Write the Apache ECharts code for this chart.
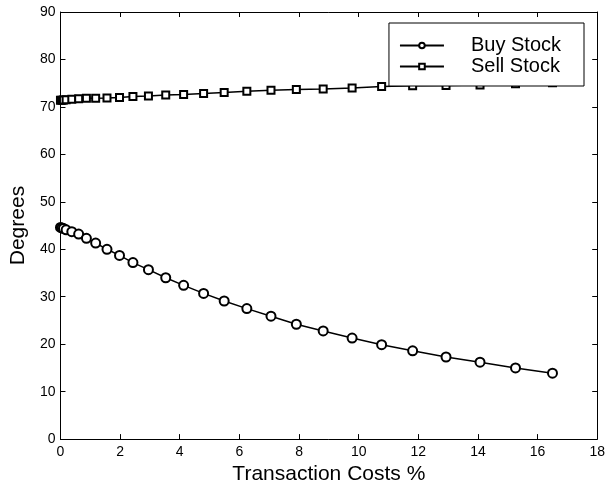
<!DOCTYPE html>
<html>
<head>
<meta charset="utf-8">
<script src="https://cdn.jsdelivr.net/npm/echarts@6/dist/echarts.min.js"></script>
<style>
  html, body { margin: 0; padding: 0; background: #fff; }
  #chart { width: 608px; height: 490px; }
</style>
</head>
<body>
<div id="chart"></div>
<script>
// Transaction cost levels (%)
const costs = [0, 0.05, 0.1, 0.19, 0.38, 0.61, 0.87, 1.18, 1.56, 1.98, 2.43, 2.95, 3.53, 4.13, 4.8, 5.49,
  6.25, 7.06, 7.91, 8.81, 9.78, 10.77, 11.81, 12.93, 14.07, 15.26, 16.5];
// Angle in degrees for each cost level
const buyStock = [44.6, 44.5, 44.4, 44.1, 43.7, 43.2, 42.3, 41.3, 40.0, 38.7, 37.2, 35.7, 34.0, 32.4, 30.7, 29.1,
  27.5, 25.9, 24.2, 22.8, 21.3, 19.9, 18.6, 17.3, 16.2, 15.0, 13.9];
const sellStock = [71.4, 71.4, 71.45, 71.5, 71.6, 71.7, 71.8, 71.85, 71.9, 72.0, 72.2, 72.3, 72.5, 72.6, 72.85, 73.05,
  73.3, 73.5, 73.65, 73.8, 74.0, 74.3, 74.45, 74.5, 74.6, 74.9, 75.1];
const xTicks = { min: 0, max: 18, interval: 2 };
const yTicks = { min: 0, max: 90, interval: 10 };

const FONT = '"Liberation Sans", Arial, Helvetica, sans-serif';
const pairs = (xs, ys) => xs.map((x, i) => [x, ys[i]]);

const axisLine = { show: true, onZero: false, lineStyle: { color: '#000', width: 1 } };
const axisTick = { show: true, inside: true, length: 5, lineStyle: { color: '#000', width: 1 } };
const tickLabel = { color: '#000', fontFamily: FONT, fontSize: 14 };

const chart = echarts.init(document.getElementById('chart'), null, { renderer: 'canvas' });
chart.setOption({
  animation: false,
  backgroundColor: '#fff',
  grid: { left: 55, right: 9, top: 12, bottom: 49, containLabel: false },
  xAxis: [
    {
      type: 'value', position: 'bottom', ...xTicks,
      name: 'Transaction Costs %', nameLocation: 'middle', nameGap: 24,
      nameTextStyle: { color: '#000', fontFamily: FONT, fontSize: 21 },
      axisLine, axisTick, splitLine: { show: false },
      axisLabel: { ...tickLabel, margin: 6 }
    },
    {
      type: 'value', position: 'top', ...xTicks,
      axisLine, axisTick, splitLine: { show: false }, axisLabel: { show: false }
    }
  ],
  yAxis: [
    {
      type: 'value', position: 'left', ...yTicks,
      name: 'Degrees', nameLocation: 'middle', nameGap: 27, nameRotate: 90,
      nameTextStyle: { color: '#000', fontFamily: FONT, fontSize: 21 },
      axisLine, axisTick, splitLine: { show: false },
      axisLabel: { ...tickLabel, margin: 5 }
    },
    {
      type: 'value', position: 'right', ...yTicks,
      axisLine, axisTick, splitLine: { show: false }, axisLabel: { show: false }
    }
  ],
  legend: {
    orient: 'vertical',
    right: 24, top: 23,
    backgroundColor: '#fff',
    borderColor: '#000', borderWidth: 1, borderRadius: 0,
    padding: [12, 23, 9, 10],
    itemWidth: 44, itemHeight: 7, itemGap: 0,
    textStyle: { color: '#000', fontFamily: FONT, fontSize: 20, lineHeight: 21, padding: [0, 0, 0, 22] },
    data: ['Buy Stock', 'Sell Stock']
  },
  series: [
    {
      name: 'Buy Stock', type: 'line', xAxisIndex: 0, yAxisIndex: 0,
      data: pairs(costs, buyStock),
      symbol: 'emptyCircle', symbolSize: 9,
      lineStyle: { color: '#000', width: 1.5 },
      itemStyle: { color: '#000', borderColor: '#000', borderWidth: 1.6 },
      z: 2
    },
    {
      name: 'Sell Stock', type: 'line', xAxisIndex: 0, yAxisIndex: 0,
      data: pairs(costs, sellStock),
      symbol: 'emptyRect', symbolSize: 7,
      lineStyle: { color: '#000', width: 1.5 },
      itemStyle: { color: '#000', borderColor: '#000', borderWidth: 1.6 },
      z: 2
    }
  ]
});
</script>
</body>
</html>
